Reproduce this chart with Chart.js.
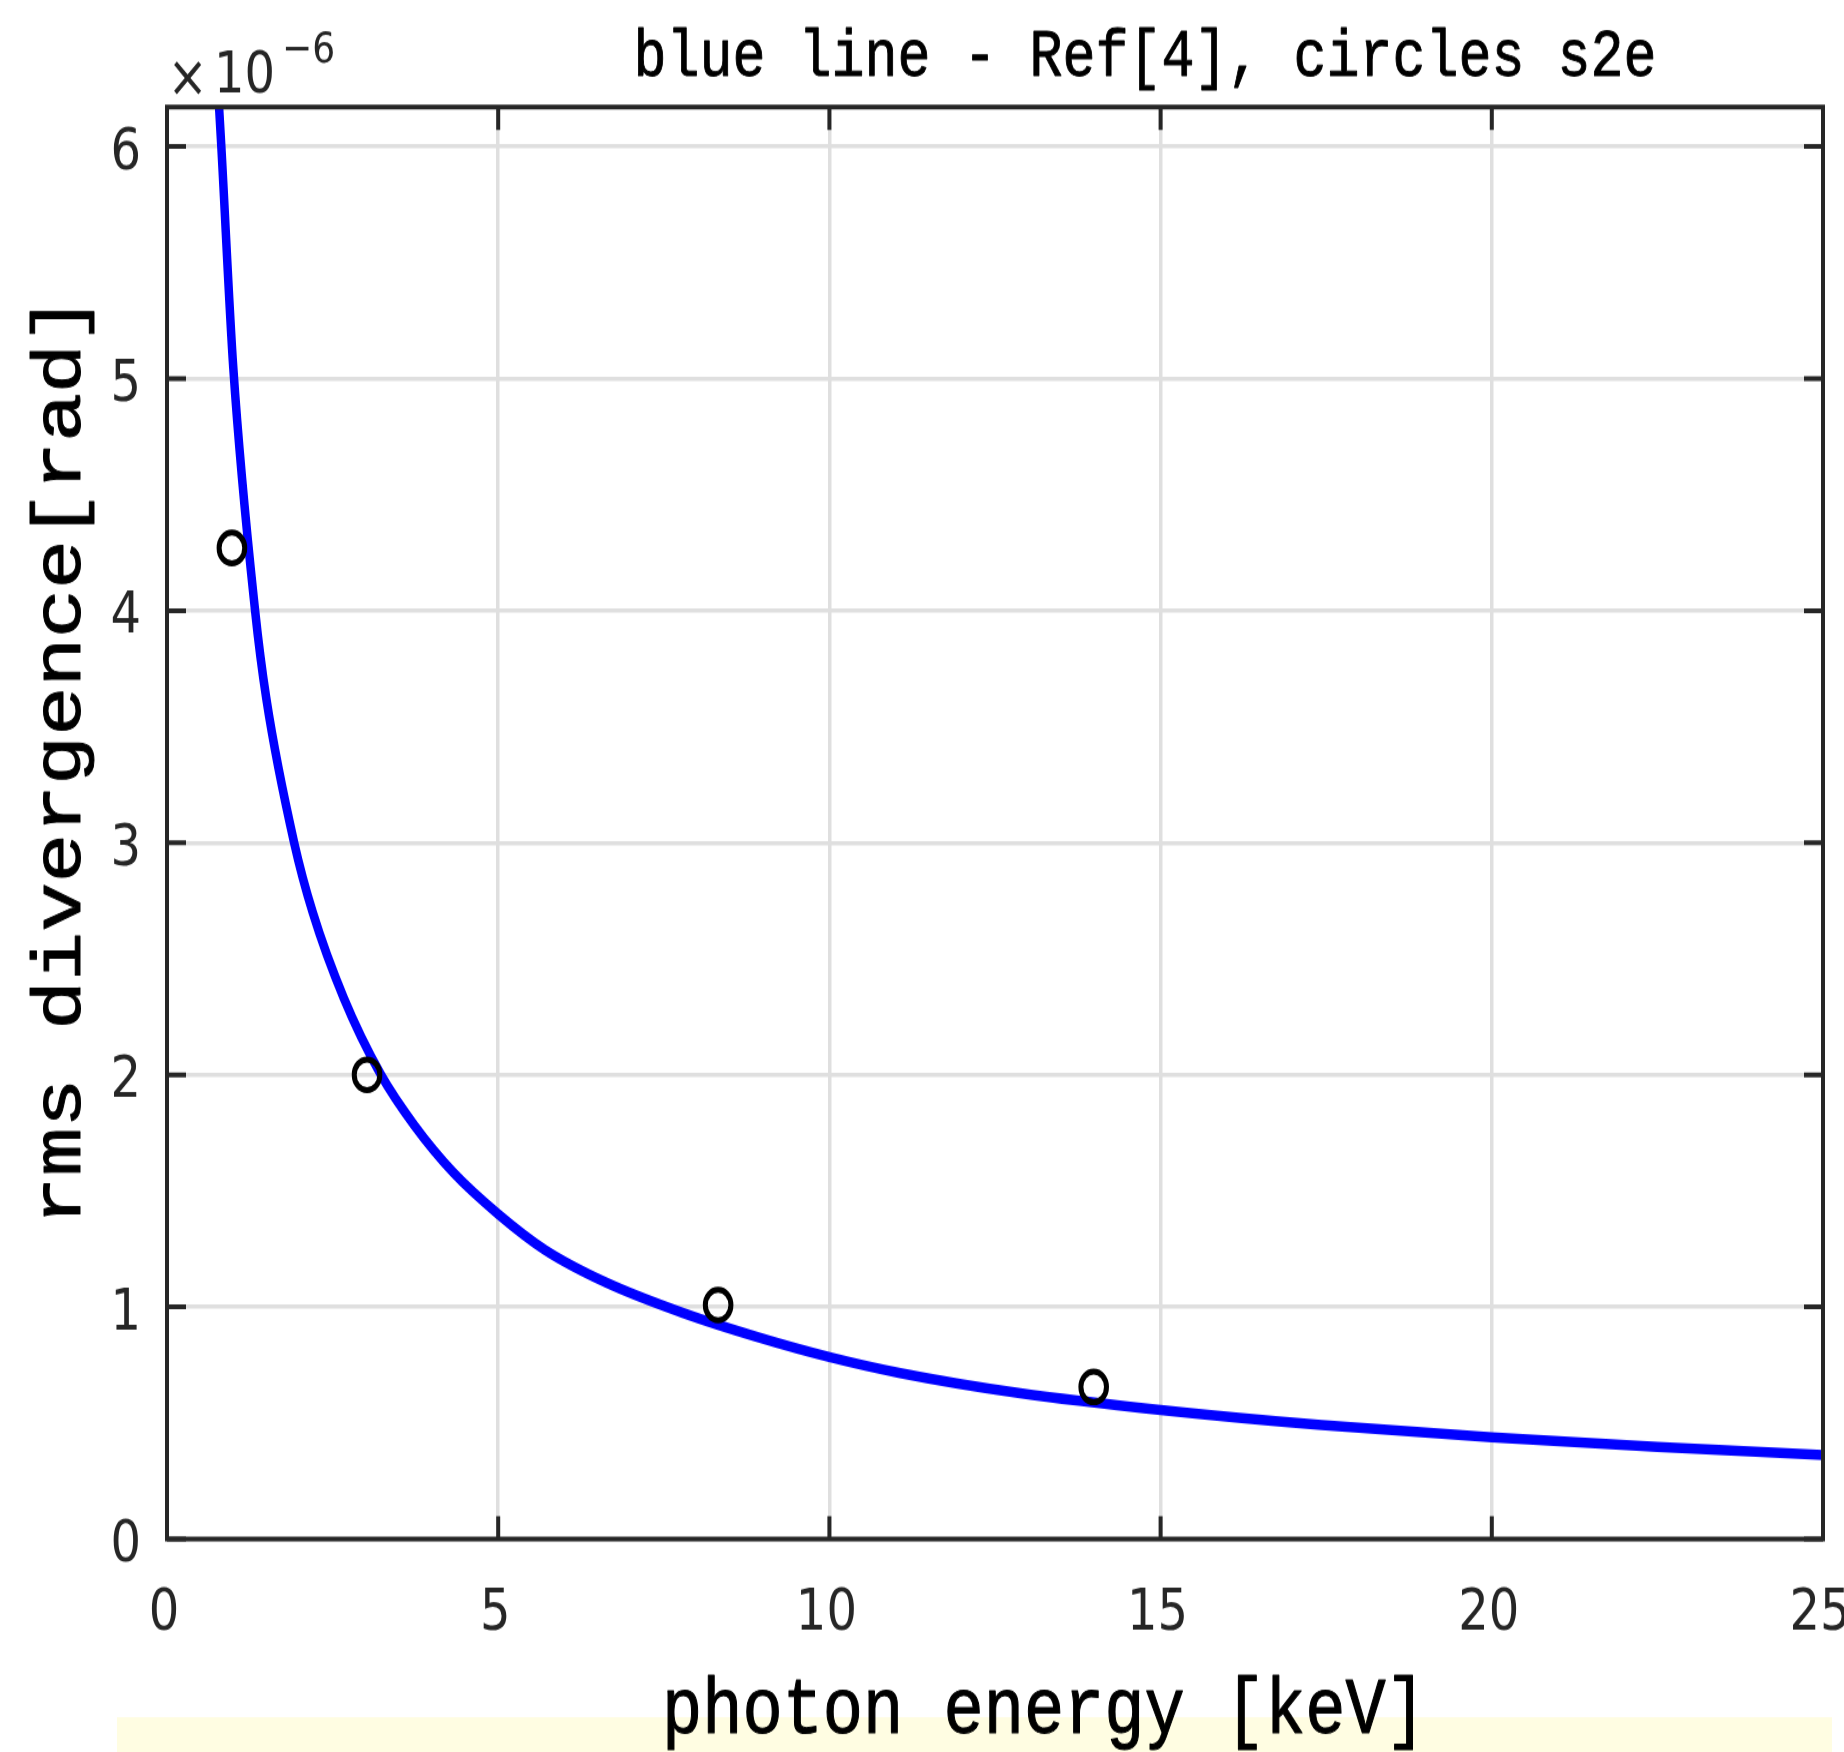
<!DOCTYPE html>
<html>
<head>
<meta charset="utf-8">
<script src="https://cdn.jsdelivr.net/npm/chart.js@4.4.0/dist/chart.umd.min.js"></script>
<style>
    html { margin: 0; padding: 0; background: #fff; overflow: hidden; }
    body { margin: 0; padding: 0; background: #fff; width: 1844px; height: 1752px; }
    /* the original figure was stretched vertically, so the canvas is too */
    #wrap { width: 1844px; height: 1460px; transform: scaleY(1.2); transform-origin: 0 0; }
    canvas { display: block; }
</style>
</head>
<body>
<div id="wrap"><canvas id="plot-data" width="1844" height="1460"></canvas></div>
<script>
// blue line, Ref[4]: photon energy [keV] -> rms divergence [1e-6 rad]
const lineEnergy = [0.78, 0.82, 1.0, 1.33, 1.5, 1.92, 2.2, 2.67, 3.23, 3.74, 4.32, 5.0, 5.71, 6.63, 7.79, 8.94, 10.0, 11.07, 12.88, 15.0, 17.43, 20.0, 22.5, 25.0]
const lineDiv = [6.20, 6.00, 5.05, 4.00, 3.62, 3.00, 2.70, 2.33, 2.00, 1.78, 1.58, 1.40, 1.245, 1.105, 0.974, 0.868, 0.784, 0.715, 0.628, 0.556, 0.491, 0.438, 0.397, 0.362]

// circles, s2e
const s2eEnergy = [0.98, 3.02, 8.32, 13.99]
const s2eDiv = [4.27, 2.0, 1.008, 0.655]

const xTicks = [0, 5, 10, 15, 20, 25]
const yTicks = [0, 1, 2, 3, 4, 5, 6]

const titleText = 'blue line - Ref[4], circles s2e'
const xTitle = 'photon energy [keV]'
const yTitle = 'rms divergence[rad]'

const dark = '#262626'
const monoFont = '"Courier New", "Nimbus Mono PS", "Nimbus Mono L", FreeMono, Courier, "Liberation Mono", monospace'

function toPoints(xs, ys) {
    let pts = []
    for (let i = 0; i < xs.length; i++) {
        pts.push({ x: xs[i], y: ys[i] })
    }
    return pts
}

// filled text with a thin outline, the reference lettering is a bit heavier
function heavyText(ctx, text, x, y, w) {
    ctx.lineWidth = w
    ctx.lineJoin = 'round'
    ctx.strokeText(text, x, y)
    ctx.fillText(text, x, y)
}

const frame = {
    id: 'frame',
    beforeDraw(chart) {
        const ctx = chart.ctx
        ctx.save()
        ctx.fillStyle = '#ffffff'
        ctx.fillRect(0, 0, chart.width, chart.height)
        ctx.fillStyle = '#fffde2'
        ctx.fillRect(117, 1431, 1715, 29)
        ctx.restore()
    },
    afterDatasetsDraw(chart) {
        const ctx = chart.ctx
        const a = chart.chartArea
        const sx = chart.scales.x
        const sy = chart.scales.y
        const len = 19
        ctx.save()
        ctx.strokeStyle = dark
        ctx.lineWidth = 4
        ctx.beginPath()
        xTicks.forEach(v => {
            const px = sx.getPixelForValue(v)
            ctx.moveTo(px, a.bottom)
            ctx.lineTo(px, a.bottom - len)
            ctx.moveTo(px, a.top)
            ctx.lineTo(px, a.top + len)
        })
        yTicks.forEach(v => {
            const py = sy.getPixelForValue(v)
            ctx.moveTo(a.left, py)
            ctx.lineTo(a.left + len, py)
            ctx.moveTo(a.right, py)
            ctx.lineTo(a.right - len, py)
        })
        ctx.stroke()
        ctx.strokeRect(a.left, a.top, a.right - a.left, a.bottom - a.top)
        ctx.restore()
    },
    afterDraw(chart) {
        const ctx = chart.ctx
        ctx.save()
        ctx.fillStyle = '#000000'
        ctx.strokeStyle = '#000000'
        ctx.textBaseline = 'alphabetic'

        ctx.font = '55px ' + monoFont
        ctx.textAlign = 'center'
        heavyText(ctx, titleText, 1145, 62.5, 0.8)

        ctx.font = '67px ' + monoFont
        heavyText(ctx, xTitle, 1044, 1444, 1)

        ctx.save()
        ctx.translate(80, 633.5)
        ctx.rotate(-Math.PI / 2)
        ctx.font = '68px ' + monoFont
        heavyText(ctx, yTitle, 0, 0, 1)
        ctx.restore()

        // axis multiplier
        ctx.fillStyle = dark
        ctx.font = '48px "DejaVu Sans"'
        ctx.textAlign = 'center'
        ctx.fillText('\u00d7', 187.5, 80)
        ctx.textAlign = 'left'
        ctx.fillText('10', 214, 76.6)
        ctx.font = '36px "DejaVu Sans"'
        ctx.fillText('\u22126', 282, 51.7)
        ctx.restore()
    }
}

var ctx = document.getElementById('plot-data').getContext('2d')
var graph = new Chart(ctx, {
    type: 'line',
    data: {
        datasets: [{
            label: 's2e',
            data: toPoints(s2eEnergy, s2eDiv),
            showLine: false,
            pointStyle: 'circle',
            pointRadius: 12.8,
            pointBorderWidth: 5,
            pointBorderColor: '#000000',
            pointBackgroundColor: 'rgba(0,0,0,0)'
        }, {
            label: 'Ref[4]',
            data: toPoints(lineEnergy, lineDiv),
            borderColor: '#0000ff',
            borderWidth: 8.5,
            pointRadius: 0,
            cubicInterpolationMode: 'monotone',
            clip: 0
        }]
    },
    plugins: [frame],
    options: {
        responsive: false,
        devicePixelRatio: 1,
        animation: false,
        events: [],
        layout: {
            autoPadding: false,
            padding: { left: 0, top: 89.2, right: 21, bottom: 0 }
        },
        plugins: {
            legend: { display: false },
            title: { display: false },
            tooltip: { enabled: false }
        },
        scales: {
            x: {
                type: 'linear',
                min: 0,
                max: 25,
                afterBuildTicks: (scale) => { scale.ticks = xTicks.map(v => ({ value: v })) },
                afterFit: (scale) => {
                    scale.height = 177.5
                    scale.paddingLeft = 0
                    scale.paddingRight = 0
                },
                border: { display: false },
                grid: { color: '#dfdfdf', lineWidth: 3.5, drawTicks: false },
                ticks: {
                    color: dark,
                    padding: 34,
                    labelOffset: -3,
                    maxRotation: 0,
                    autoSkip: false,
                    font: { family: 'DejaVu Sans', size: 48 }
                }
            },
            y: {
                type: 'linear',
                min: 0,
                max: 6.17,
                afterBuildTicks: (scale) => { scale.ticks = yTicks.map(v => ({ value: v })) },
                afterFit: (scale) => {
                    scale.width = 167
                    scale.paddingTop = 0
                    scale.paddingBottom = 0
                },
                border: { display: false },
                grid: { color: '#dfdfdf', lineWidth: 3.5, drawTicks: false },
                ticks: {
                    color: dark,
                    padding: 26,
                    labelOffset: 6,
                    autoSkip: false,
                    font: { family: 'DejaVu Sans', size: 48 }
                }
            }
        }
    }
})
</script>
</body>
</html>
